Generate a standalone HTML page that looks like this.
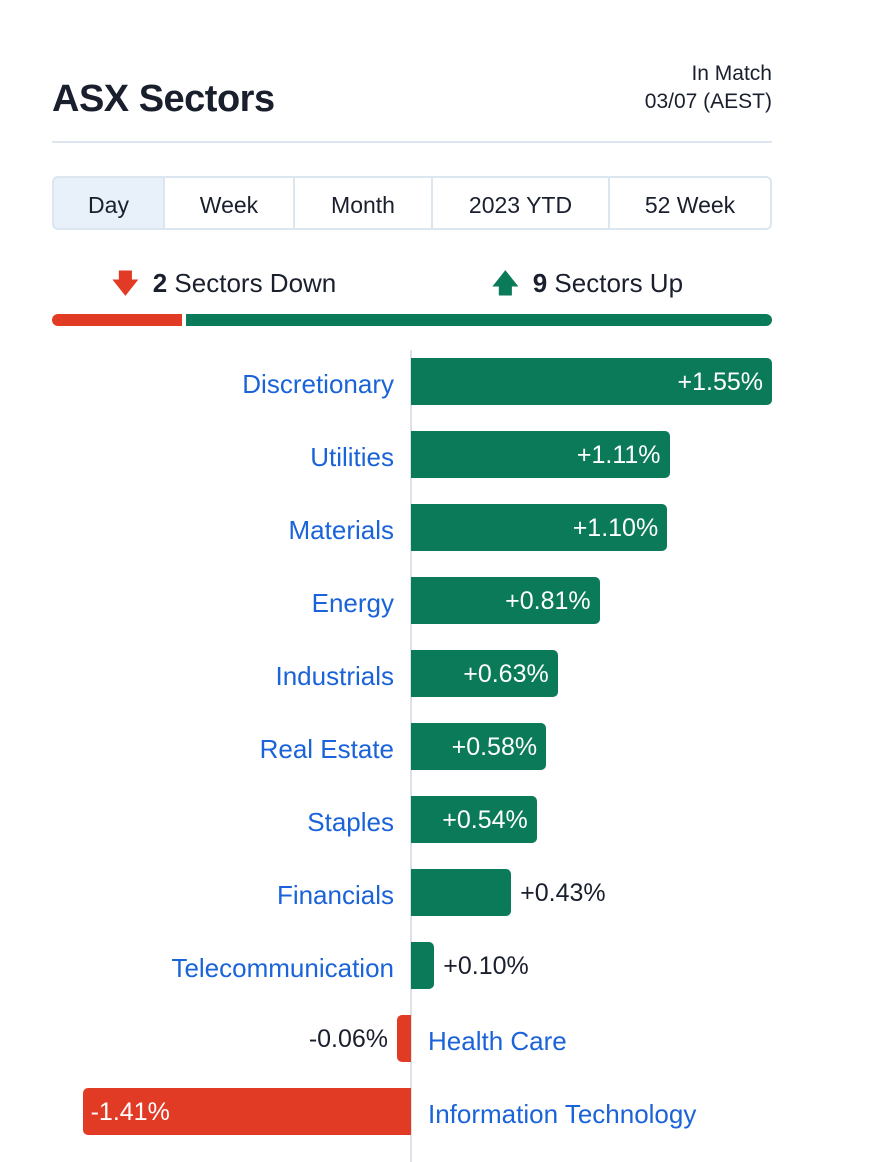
<!DOCTYPE html>
<html><head><meta charset="utf-8"><style>
body{margin:0;width:890px;height:1162px;background:#fff;font-family:"Liberation Sans",sans-serif;color:#1a1f2e;position:relative;overflow:hidden}
.a{position:absolute}
.tab{position:absolute;top:176px;height:54px;line-height:54px;text-align:center;font-size:23px;border:2px solid #dce6f0;box-sizing:border-box;background:#fff;cursor:pointer}
</style></head><body>
<div class="a" style="left:52px;top:78px;font-size:38px;font-weight:bold;letter-spacing:-0.5px">ASX Sectors</div>
<div class="a" style="right:118px;top:60px;font-size:21px;text-align:right;line-height:28px">In Match<br>03/07 (AEST)</div>
<div class="a" style="left:52px;top:141px;width:720px;height:2px;background:#dce6f0"></div>
<div class="tab" style="left:52px;width:113px;background:#e8f0fa;border-radius:6px 0 0 6px">Day</div>
<div class="tab" style="left:163px;width:132px">Week</div>
<div class="tab" style="left:293px;width:140px">Month</div>
<div class="tab" style="left:431px;width:179px">2023 YTD</div>
<div class="tab" style="left:608px;width:164px;border-radius:0 6px 6px 0">52 Week</div>
<div class="a" style="left:112px;top:265px;font-size:26px"><span style="color:#e23b25;font-weight:bold;margin-right:14px">&#129095;</span><b>2</b> Sectors Down</div>
<div class="a" style="left:492px;top:265px;font-size:26px"><span style="color:#0b7a58;font-weight:bold;margin-right:14px">&#129093;</span><b>9</b> Sectors Up</div>
<div class="a" style="left:52px;top:314px;width:130px;height:12px;background:#e23b25;border-radius:6px 0 0 6px"></div>
<div class="a" style="left:186px;top:314px;width:586px;height:12px;background:#0b7a58;border-radius:0 6px 6px 0"></div>
<div class="a" style="left:410px;top:350px;width:2px;height:812px;background:#dde2e8"></div>
<div id="chart"></div>
<script>
const categories=["Discretionary","Utilities","Materials","Energy","Industrials","Real Estate","Staples","Financials","Telecommunication","Health Care","Information Technology"];
const values=[1.55,1.11,1.10,0.81,0.63,0.58,0.54,0.43,0.10,-0.06,-1.41];
const x0=411,scale=(772-411)/1.55;
function xs(v){return x0+v*scale;}
function yc(i){return 382+i*73;}
const c=document.getElementById('chart');
categories.forEach((cat,i)=>{
 const v=values[i],y=yc(i),pos=v>=0;
 const w=Math.abs(xs(v)-x0);
 const bar=document.createElement('div');
 
 
 bar.className='a';
 bar.style.cssText=`top:${y-24}px;height:47px;width:${w}px;left:${pos?x0:x0-w}px;background:${pos?'#0b7a58':'#e23b25'};border-radius:${pos?'0 5px 5px 0':'5px 0 0 5px'}`;
 c.appendChild(bar);
 const txt=(v>=0?'+':'')+v.toFixed(2)+'%';
 const lab=document.createElement('div');
 
 
 lab.className='a';lab.textContent=txt;
 const inside=w>110;
 let st=`top:${y-15}px;font-size:25px;line-height:30px;white-space:nowrap;`;
 if(pos){st+=inside?`right:${890-(x0+w)+9}px;color:#fff;`:`left:${x0+w+9}px;color:#1a1f2e;`;}
 else{st+=inside?`left:${x0-w+8}px;color:#fff;`:`right:${890-(x0-w)+9}px;color:#1a1f2e;`;}
 lab.style.cssText=st;c.appendChild(lab);
 const cl=document.createElement('div');
 
 
 cl.className='a';cl.textContent=cat;
 cl.style.cssText=`top:${y-13}px;font-size:26px;line-height:30px;color:#1a63d8;white-space:nowrap;`+(pos?`right:${890-394}px;text-align:right;`:`left:428px;`);
 c.appendChild(cl);
});
</script>
</body></html>
